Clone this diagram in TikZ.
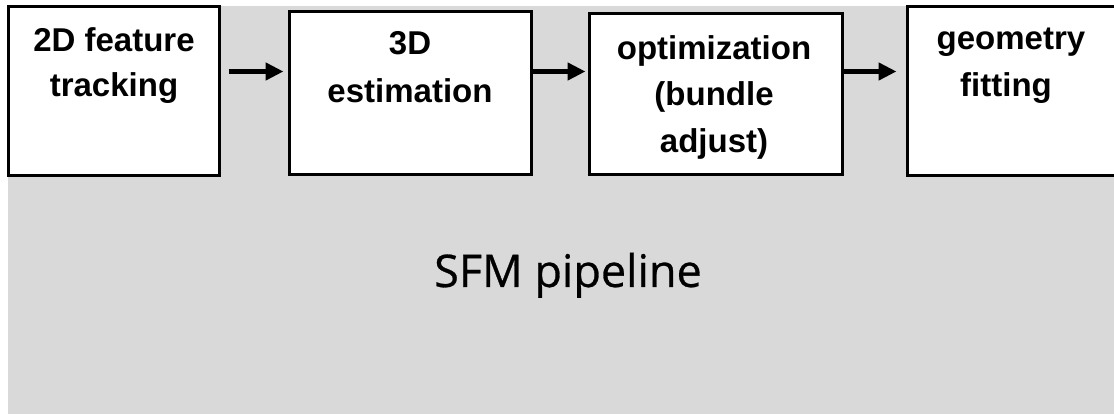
\documentclass[tikz,border=0pt]{standalone}
\usepackage{fontspec}
\setmainfont{Liberation Sans}
\newfontfamily\titlefont{Open Sans}[FakeBold=0.6]
\usetikzlibrary{arrows.meta}
\definecolor{bggray}{RGB}{217,217,217}
\tikzset{
  stagebox/.style={draw=black, fill=white, line width=3pt, inner sep=0pt},
  lbl/.style={font=\bfseries\fontsize{33}{39}\selectfont, inner sep=0pt, anchor=base},
  flow/.style={line width=5pt, -{Triangle[length=18pt,width=17pt]}, shorten <=8pt, shorten >=4pt},
  ttl/.style={font=\titlefont\fontsize{45}{54}\selectfont, inner sep=0pt, anchor=base}
}
\begin{document}
\begin{tikzpicture}[x=1pt,y=-1pt]
\useasboundingbox (0,0) rectangle (1114,414);
\fill[white] (0,0) rectangle (1114,414);
\fill[bggray] (8,6) rectangle (1114,414);
\begin{scope}
\clip (0,0) rectangle (1114,414);
\node[stagebox, minimum width=211pt, minimum height=169pt] (b1) at (113.5,91.5) {};
\node[stagebox, minimum width=242pt, minimum height=163pt] (b2) at (410,93.5) {};
\node[stagebox, minimum width=253pt, minimum height=161pt] (b3) at (715.5,94.5) {};
\node[stagebox, minimum width=211pt, minimum height=169pt] (b4) at (1012.5,91.5) {};
\end{scope}
\coordinate (a1s) at (b1.east |- 0,71.5);
\coordinate (a1e) at (b2.west |- 0,71.5);
\coordinate (a2s) at (b2.east |- 0,71.5);
\coordinate (a2e) at (b3.west |- 0,71.5);
\coordinate (a3s) at (b3.east |- 0,71.5);
\coordinate (a3e) at (b4.west |- 0,71.5);
\draw[flow] (a1s) -- (a1e);
\draw[flow, shorten <=0pt, shorten >=2pt] (a2s) -- (a2e);
\draw[flow, shorten <=0pt, shorten >=9pt] (a3s) -- (a3e);
\node[lbl] (t1a) at (114,52) {2D feature};
\node[lbl] (t1b) at (114,97) {tracking};
\node[lbl] (t2a) at (410,55) {3D};
\node[lbl] (t2b) at (410,103) {estimation};
\node[lbl] (t3a) at (714,60) {optimization};
\node[lbl] (t3b) at (714,106) {(bundle};
\node[lbl] (t3c) at (714,153) {adjust)};
\node[lbl] (t4a) at (1011,50) {geometry};
\node[lbl] (t4b) at (1006,97) {fitting};
\node[ttl] (title) at (568,287) {SFM pipeline};
\end{tikzpicture}
\end{document}
